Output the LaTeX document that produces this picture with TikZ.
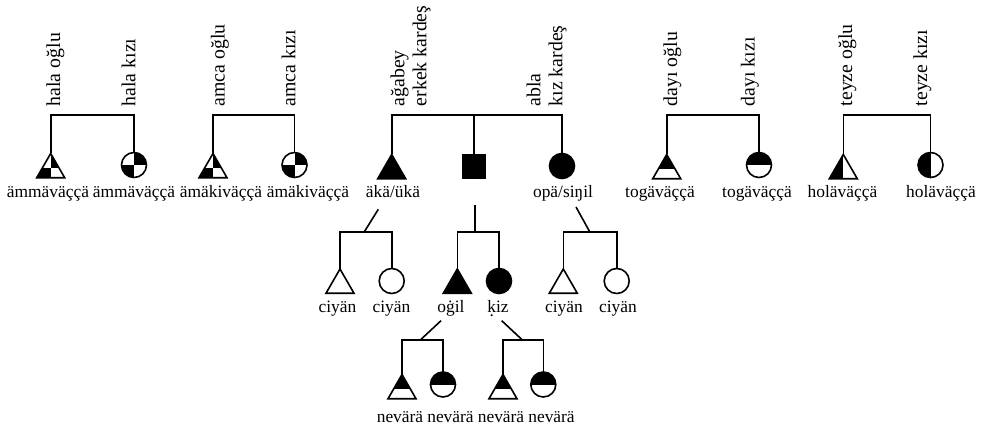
\documentclass[tikz,border=0pt]{standalone}
\usepackage{fontspec}
\setmainfont{Liberation Serif}
\usetikzlibrary{shapes.geometric,calc}
\newcommand\dotk{\leavevmode\setbox0\hbox{k}\rlap{\hbox to\wd0{\hss\raisebox{-0.2em}{.}\hss}}k}
\begin{document}
\begin{tikzpicture}[x=1pt,y=-1pt,line width=1.6pt,
  male/.style={regular polygon, regular polygon sides=3, minimum size=32.3pt, inner sep=0pt, outer sep=0pt, draw, fill=white, anchor=north},
  female/.style={circle, minimum size=25pt, inner sep=0pt, outer sep=0pt, draw, fill=white, anchor=north},
  ego/.style={rectangle, minimum size=23pt, inner sep=0pt, outer sep=0pt, draw, fill=black, anchor=north},
  solid black/.style={fill=black},
  quad/.style={path picture={
    \fill[black] (path picture bounding box.north) rectangle ($(path picture bounding box.north east)!#1!(path picture bounding box.south east)$);
    \fill[black] ($(path picture bounding box.north west)!#1!(path picture bounding box.south west)$) rectangle (path picture bounding box.south);}},
  tophalf/.style={path picture={
    \fill[black] (path picture bounding box.north west) rectangle ($(path picture bounding box.north east)!#1!(path picture bounding box.south east)$);}},
  lhalf/.style={path picture={
    \fill[black] (path picture bounding box.north west) rectangle (path picture bounding box.south);}},
  lab/.style={font=\fontsize{17.4}{20}\selectfont, inner sep=0pt, anchor=base},
  rlab/.style={font=\fontsize{19.8}{22}\selectfont, inner sep=0pt, rotate=90, anchor=west, align=left}]
\useasboundingbox (0,0) rectangle (982,427);
\coordinate (bar) at (0,115);
% top row
\node[male, quad=0.6] (h1) at (50.7,153.5) {};
\node[female, quad=0.5] (h2) at (134,152.5) {};
\node[male, quad=0.6] (a1) at (213,153.5) {};
\node[female, quad=0.5] (a2) at (294.5,152.5) {};
\node[male, solid black] (s1) at (391.7,154.5) {};
\node[ego] (s2) at (474,155) {};
\node[female, solid black] (s3) at (562,153.5) {};
\node[male, tophalf=0.6] (d1) at (666.7,154.5) {};
\node[female, tophalf=0.5] (d2) at (759,152.5) {};
\node[male, lhalf] (t1) at (843.3,154.5) {};
\node[female, lhalf] (t2) at (930.5,152.5) {};
\draw (h1.north) -- (h1.north |- bar) -- (h2.north |- bar) -- (h2.north);
\draw (a1.north) -- (a1.north |- bar) -- (a2.north |- bar) -- (a2.north);
\draw (s1.north) -- (s1.north |- bar) -- (s3.north |- bar) -- (s3.north);
\draw (s2.north) -- (s2.north |- bar);
\draw (d1.north) -- (d1.north |- bar) -- (d2.north |- bar) -- (d2.north);
\draw (t1.north) -- (t1.north |- bar) -- (t2.north |- bar) -- (t2.north);
% rotated labels
\node[rlab] (r1) at (55.5,107) {hala oğlu};
\node[rlab] (r2) at (128.5,107) {hala kızı};
\node[rlab] (r3) at (220,107) {amca oğlu};
\node[rlab] (r4) at (288.5,107) {amca kızı};
\node[rlab] (r5) at (410.5,107) {ağabey\\erkek kardeş};
\node[rlab] (r6) at (546.5,107) {abla\\kız kardeş};
\node[rlab] (r7) at (672.5,107) {dayı oğlu};
\node[rlab] (r8) at (750,107) {dayı kızı};
\node[rlab] (r9) at (847.5,107) {teyze oğlu};
\node[rlab] (r10) at (922.5,107) {teyze kızı};
% top row labels
\node[lab] (l1) at (48,198) {ämmäväççä};
\node[lab] (l2) at (134,198) {ämmäväççä};
\node[lab] (l3) at (221,198) {ämäkiväççä};
\node[lab] (l4) at (308,198) {ämäkiväççä};
\node[lab] (l5) at (393,198) {äkä/ükä};
\node[lab] (l6) at (563,198) {opä/siŋil};
\node[lab] (l7) at (660,198) {togäväççä};
\node[lab] (l8) at (757,198) {togäväççä};
\node[lab] (l9) at (842.5,198) {holäväççä};
\node[lab] (l10) at (941,198) {holäväççä};
% level 3
\coordinate (bar3) at (0,232.3);
\coordinate (k1a) at (378.3,209.3); \coordinate (k1b) at (364,232.3);
\coordinate (k2a) at (475,205); \coordinate (k2b) at (475,232.3);
\coordinate (k3a) at (576,207); \coordinate (k3b) at (590,232.3);
\node[male] (c1) at (340,269) {};
\node[female] (c2) at (391.7,268.5) {};
\node[male, solid black] (o1) at (457.3,269) {};
\node[female, solid black] (o2) at (499,268.5) {};
\node[male] (c3) at (563.3,269) {};
\node[female] (c4) at (616.7,268.5) {};
\draw (k1a) -- (k1b);
\draw (k2a) -- (k2b);
\draw (k3a) -- (k3b);
\draw (c1.north) -- (c1.north |- bar3) -- (c2.north |- bar3) -- (c2.north);
\draw (o1.north) -- (o1.north |- bar3) -- (o2.north |- bar3) -- (o2.north);
\draw (c3.north) -- (c3.north |- bar3) -- (c4.north |- bar3) -- (c4.north);
\node[lab] (m1) at (337.5,313) {ciyän};
\node[lab] (m2) at (391.5,313) {ciyän};
\node[lab] (m3) at (451,313) {oġil};
\node[lab] (m4) at (498,313) {\dotk iz};
\node[lab] (m5) at (564,313) {ciyän};
\node[lab] (m6) at (618,313) {ciyän};
% level 4
\coordinate (bar4) at (0,340.3);
\coordinate (g1a) at (441,320.7); \coordinate (g1b) at (420,340.3);
\coordinate (g2a) at (501.7,320.7); \coordinate (g2b) at (522.7,340.3);
\node[male, tophalf=0.6] (n1) at (402,374.5) {};
\node[female, tophalf=0.5] (n2) at (443,372) {};
\node[male, tophalf=0.6] (n3) at (503,374.5) {};
\node[female, tophalf=0.5] (n4) at (543.3,372) {};
\draw (g1a) -- (g1b);
\draw (g2a) -- (g2b);
\draw (n1.north) -- (n1.north |- bar4) -- (n2.north |- bar4) -- (n2.north);
\draw (n3.north) -- (n3.north |- bar4) -- (n4.north |- bar4) -- (n4.north);
\node[lab] (p1) at (400,422) {nevärä};
\node[lab] (p2) at (450.5,422) {nevärä};
\node[lab] (p3) at (501,422) {nevärä};
\node[lab] (p4) at (551.5,422) {nevärä};
\end{tikzpicture}
\end{document}
